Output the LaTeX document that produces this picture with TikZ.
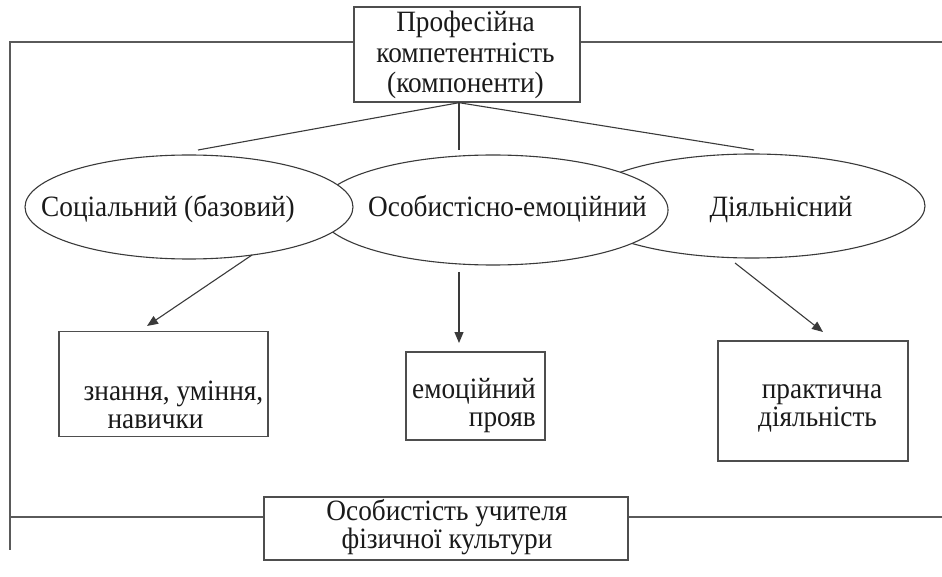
\documentclass[tikz,border=0pt]{standalone}
\usepackage{fontspec}
\setmainfont{Liberation Serif}[FakeStretch=0.925]
\usetikzlibrary{arrows.meta,shapes.geometric}
\definecolor{ink}{HTML}{1A1A1A}
\definecolor{framegray}{HTML}{5A5A5A}
\definecolor{edgegray}{HTML}{3A3A3A}
\begin{document}
\begin{tikzpicture}[x=1pt,y=-1pt,
  frameline/.style={draw=framegray,line width=2pt},
  boxr/.style={rectangle,draw=edgegray!90,line width=1.4pt,fill=white,inner sep=0pt},
  oval/.style={ellipse,draw=edgegray,line width=1.1pt,fill=white,inner sep=0pt},
  link/.style={draw=edgegray,line width=1.1pt},
  arrowl/.style={link,-{Triangle[length=11pt,width=9pt]}},
  txt/.style={font=\fontsize{29.5}{28}\selectfont,text=ink,inner sep=0pt},
]
\useasboundingbox (0,0) rectangle (942,577);

% frame lines
\coordinate (fTR) at (942,42);
\coordinate (fTL) at (10,42);
\coordinate (fBL) at (10,550);
\coordinate (fML) at (10,517);
\coordinate (fMR) at (942,517);
\draw[frameline] (fTR) -- (fTL) -- (fBL);
\draw[frameline] (fML) -- (fMR);

% top box
\node[boxr,minimum width=226pt,minimum height=95pt] (top) at (467,54.5) {};
\node[txt,align=center,anchor=base,font=\fontsize{29.5}{30.5}\selectfont] (toptxt) at (465.5,93) {Професійна\\компетентність\\(компоненти)};

% ends of the three lines from the top box
\coordinate (endL) at (198,150);
\coordinate (endM) at (459,150);
\coordinate (endR) at (754,150);
\draw[link] (top.south -| endM) -- (endL);
\draw[link] (top.south -| endM) -- (endM);
\draw[link] (top.south -| endM) -- (endR);

% ellipses (right under middle under left)
\node[oval,minimum width=346pt,minimum height=104pt] (ellR) at (752,206) {};
\node[oval,minimum width=350pt,minimum height=110pt] (ellM) at (493,210) {};
\node[oval,minimum width=328pt,minimum height=104pt] (ellL) at (189,207) {};
\node[txt,anchor=base] (txtL) at (168,217) {Соціальний (базовий)};
\node[txt,anchor=base] (txtM) at (507.5,217) {Особистісно-емоційний};
\node[txt,anchor=base] (txtR) at (781,217) {Діяльнісний};

% lower boxes
\node[boxr,minimum width=209pt,minimum height=105pt] (boxL) at (163.5,384) {};
\node[boxr,minimum width=139pt,minimum height=88pt] (boxM) at (475.5,396) {};
\node[boxr,minimum width=190pt,minimum height=120pt] (boxR) at (813,401) {};
\node[txt,align=center,anchor=base] (tbL) at (173.5,428) {знання, уміння,\\навички\hspace*{36pt}};
\node[txt,align=right,anchor=base east] (tbM) at (536,426) {емоційний\\прояв};
\node[txt,align=center,anchor=base] (tbR) at (822,426) {практична\\діяльність\hspace*{9pt}};

% arrows
\coordinate (aL0) at (252,255);
\coordinate (aL1) at (147,326);
\coordinate (aM0) at (459,272);
\coordinate (aM1) at (459,343);
\coordinate (aR0) at (735,263);
\coordinate (aR1) at (823,332);
\draw[arrowl] (aL0) -- (aL1);
\draw[arrowl] (aM0) -- (aM1);
\draw[arrowl] (aR0) -- (aR1);

% bottom box
\node[boxr,minimum width=364pt,minimum height=63pt] (bot) at (446,528.5) {};
\node[txt,align=center,anchor=base,font=\fontsize{29.5}{26}\selectfont] (bottxt) at (447,548) {Особистість учителя\\фізичної культури};
\end{tikzpicture}
\end{document}
